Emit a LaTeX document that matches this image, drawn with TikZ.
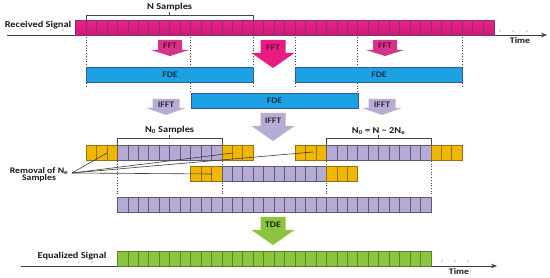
\documentclass[tikz,border=0pt]{standalone}
\usepackage{fontspec}
\setmainfont[FakeStretch=1.15]{Carlito}
\usetikzlibrary{arrows.meta}
\definecolor{pinkc}{RGB}{236,32,138}
\definecolor{pinkb}{RGB}{205,25,118}
\definecolor{pinkd}{RGB}{125,55,105}
\definecolor{fdec}{RGB}{28,162,226}
\definecolor{fded}{RGB}{55,85,170}
\definecolor{fdet}{RGB}{25,45,80}
\definecolor{lavc}{RGB}{181,170,211}
\definecolor{lavd}{RGB}{95,88,115}
\definecolor{yelc}{RGB}{240,183,0}
\definecolor{yeld}{RGB}{150,110,20}
\definecolor{grnc}{RGB}{140,196,63}
\definecolor{grnd}{RGB}{85,135,40}
\definecolor{fftc}{RGB}{214,52,138}
\definecolor{fftbig}{RGB}{232,28,128}
\definecolor{fftt}{RGB}{110,10,60}
\definecolor{ifftc}{RGB}{182,172,212}
\definecolor{ifftt}{RGB}{50,50,60}
\definecolor{tdec}{RGB}{140,196,63}
\definecolor{tdet}{RGB}{20,40,10}
\definecolor{txtd}{RGB}{25,25,25}
\definecolor{guidec}{RGB}{60,70,80}
\definecolor{linec}{RGB}{60,60,60}
\definecolor{brackc}{RGB}{70,70,70}
\definecolor{dotc}{RGB}{100,100,100}
\def\cw{10.45}
% cell row: name, k0, n, ytop, height, fill, draw
\newcommand\cellrow[7]{%
  \node[anchor=north west, inner sep=0, outer sep=0, minimum width={#3*\cw pt},
        minimum height={#5 pt}, fill=#6, draw=#7, line width=0.6pt] (#1) at ({86+(#2)*\cw},#4) {};
  \pgfmathtruncatemacro\nmo{#3-1}
  \foreach \i in {1,...,\nmo} {\draw[#7, line width=0.6pt] ({86+(#2+\i)*\cw},#4) -- ++(0,#5);}
}
% down arrow: name, cx, ytop, boxw, boxh, headw, tipy, fill, text
\newcommand\darrow[9]{%
  \fill[#8] ({#2-#4/2},#3) -- ({#2+#4/2},#3) -- ({#2+#4/2},{#3+#5}) -- ({#2+#6/2},{#3+#5})
     -- (#2,#7) -- ({#2-#6/2},{#3+#5}) -- ({#2-#4/2},{#3+#5}) -- cycle;
  \node[arrowlab] (#1) at (#2,{#3+#5/2+1}) {#9};
}
\begin{document}
\begin{tikzpicture}[x=1pt,y=-1pt,
  lab/.style={font=\fontsize{9}{10}\selectfont\bfseries, text=txtd, inner sep=1pt},
  smalllab/.style={font=\fontsize{8.5}{9}\selectfont\bfseries, text=txtd, inner sep=1pt},
  arrowlab/.style={font=\fontsize{8.5}{9}\selectfont\bfseries, inner sep=0pt},
  fde/.style={anchor=north west, inner sep=0, minimum width={16*\cw pt}, minimum height=15pt,
     fill=fdec, draw=fded, line width=0.8pt, font=\fontsize{8.5}{9}\selectfont\bfseries, text=fdet},
  guide/.style={draw=guidec, line width=0.7pt, dotted},
  axis/.style={draw=linec, line width=0.8pt, -{Stealth[length=6pt,width=4.5pt]}},
  remline/.style={draw=linec, line width=0.6pt},
  bracket/.style={draw=brackc, line width=0.7pt},
  dotfill/.style={fill=dotc}
]
\useasboundingbox (0,0) rectangle (550,278);

% ---------- received signal ----------
\coordinate (rs0) at (7,35);
\coordinate (rs1) at (547,35);
\draw[axis] (rs0) -- (rs1);
\node[anchor=north west, inner sep=0, minimum width={40*\cw pt}, minimum height=15pt,
      top color=pinkc, bottom color=pinkb] (recvbar) at ({86-\cw},20) {};
\draw[pinkd, line width=0.7pt] (recvbar.north west) rectangle (recvbar.south east);
\foreach \i in {1,...,39} {\draw[pinkd, line width=0.6pt] ({86+(\i-1)*\cw},20) -- ++(0,15);}
\node[lab] (recv) at (38,25) {Received Signal};
\foreach \x in {38,51,63} \fill[dotfill] (\x,30) circle (0.7);
\foreach \x in {500,513,527} \fill[dotfill] (\x,31) circle (0.7);
\node[smalllab] (time1) at (520,41) {Time};

% N samples bracket
\node[lab, anchor=south] (nsamp) at ({86+8*\cw},12.5) {N Samples};
\coordinate (nbL) at (86,20);
\coordinate (nbR) at ({86+16*\cw},20);
\draw[bracket] (nbL) -- ++(0,-5) -| (nbR);
\draw[bracket] (nsamp.south) -- ++(0,2.5);

% ---------- guides (upper) ----------
\foreach \k/\yb in {0/88,16/88,20/88,36/88,10/93,26/93} {
  \coordinate (gu\k a) at ({86+\k*\cw},37);
  \coordinate (gu\k b) at ({86+\k*\cw},\yb);
  \draw[guide] (gu\k a) -- (gu\k b);
}

% ---------- FDE blocks ----------
\node[fde] (fde1) at (86,67) {FDE};
\node[fde] (fde3) at ({86+20*\cw},67) {FDE};
\node[fde] (fde2) at ({86+10*\cw},93) {FDE};

% ---------- FFT / IFFT arrows ----------
\darrow{fft1}{170}{40}{24}{10}{38}{56}{fftc}{\textcolor{fftt}{FFT}}
\darrow{fft3}{385}{40}{24}{10}{38}{56}{fftc}{\textcolor{fftt}{FFT}}
\darrow{fft2}{273}{40}{25}{13}{43}{68}{fftbig}{\textcolor{fftt}{FFT}}
\darrow{ifft1}{166}{99}{27}{9}{39}{115}{ifftc}{\textcolor{ifftt}{IFFT}}
\darrow{ifft2}{382}{99}{27}{9}{39}{115}{ifftc}{\textcolor{ifftt}{IFFT}}
\darrow{ifft3}{273}{113}{25}{13}{43}{141}{ifftc}{\textcolor{ifftt}{IFFT}}

% ---------- guides (lower) ----------
\foreach \k in {3,13,23,33} {
  \coordinate (gl\k a) at ({86+\k*\cw},161);
  \coordinate (gl\k b) at ({86+\k*\cw},196);
  \draw[guide] (gl\k a) -- (gl\k b);
}

% ---------- rows after IFFT ----------
\cellrow{r1ay1}{0}{3}{145}{15.5}{yelc}{yeld}
\cellrow{r1al}{3}{10}{145}{15.5}{lavc}{lavd}
\cellrow{r1ay2}{13}{3}{145}{15.5}{yelc}{yeld}
\cellrow{r1by1}{20}{3}{145}{15.5}{yelc}{yeld}
\cellrow{r1bl}{23}{10}{145}{15.5}{lavc}{lavd}
\cellrow{r1by2}{33}{3}{145}{15.5}{yelc}{yeld}
\cellrow{r2y1}{10}{3}{166}{15.5}{yelc}{yeld}
\cellrow{r2l}{13}{10}{166}{15.5}{lavc}{lavd}
\cellrow{r2y2}{23}{3}{166}{15.5}{yelc}{yeld}
\cellrow{r3}{3}{30}{197}{15.5}{lavc}{lavd}

% brackets
\node[lab, anchor=south] (n0) at ({86+8*\cw},135.5) {N\textsubscript{0} Samples};
\draw[bracket] (r1al.north west) -- ++(0,-7) -| (r1al.north east);
\draw[bracket] (n0.south) -- ++(0,2.5);
\node[lab, anchor=south] (n0eq) at ({86+28*\cw},135.5) {N\textsubscript{0} = N − 2N\textsubscript{e}};
\draw[bracket] (r1bl.north west) -- ++(0,-7) -| (r1bl.north east);
\draw[bracket] (n0eq.south) -- ++(0,2.5);

% removal lines
\node[smalllab, align=center] (removal) at (39,174.5) {Removal of N\textsubscript{e}\\[-1.5pt]Samples};
\coordinate (rem) at (72,173);
\coordinate (t1) at (107,153);
\coordinate (t2) at (233,153);
\coordinate (t3) at (313,152);
\coordinate (t4) at (212,174);
\foreach \t in {t1,t2,t3,t4} \draw[remline] (rem) -- (\t);

% ---------- TDE ----------
\darrow{tde}{273}{217}{25}{13}{43}{245}{tdec}{\textcolor{tdet}{TDE}}

% ---------- equalized signal ----------
\coordinate (es0) at (21,266);
\coordinate (es1) at (497,266);
\draw[axis] (es0) -- (es1);
\cellrow{eqbar}{3}{30}{251}{15}{grnc}{grnd}
\node[lab] (eq) at (72,256) {Equalized Signal};
\foreach \x in {67,79,92} \fill[dotfill] (\x,262) circle (0.7);
\foreach \x in {442,455,468} \fill[dotfill] (\x,261) circle (0.7);
\node[smalllab] (time2) at (459,272) {Time};
\end{tikzpicture}
\end{document}
